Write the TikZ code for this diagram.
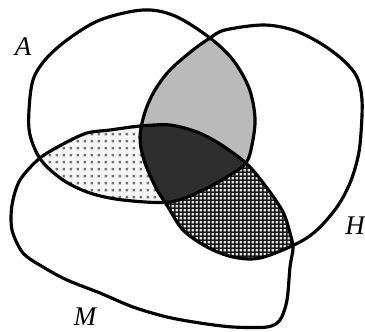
\documentclass[tikz,border=0pt]{standalone}
\usepackage{fontspec}
\setmainfont{Liberation Serif}
\usetikzlibrary{patterns.meta}
\tikzdeclarepattern{
  name=sqdots,
  type=colored,
  bottom left={(0pt,0pt)},
  top right={(5.6pt,5.6pt)},
  tile size={(5.6pt,5.6pt)},
  code={\fill[black!55] (1.4pt,1.4pt) rectangle (3.8pt,3.8pt);}
}
\tikzdeclarepattern{
  name=hatchgrid,
  type=colored,
  bottom left={(0pt,0pt)},
  top right={(3.8pt,3.8pt)},
  tile size={(3.8pt,3.8pt)},
  code={\fill[black!90] (0pt,0pt) rectangle (3.8pt,1.6pt); \fill[black!90] (0pt,0pt) rectangle (1.6pt,3.8pt);}
}
\def\pathA{plot[smooth cycle,tension=0.55] coordinates {(29,110) (33,80) (45,60) (67,40) (100,20) (143,10) (175,16) (210,38) (233,60) (249,88) (255,118) (252,145) (246,163) (230,175) (203,190) (170,202) (123,200) (90,193) (63,180) (41,160) (30,135)}}
\def\pathH{plot[smooth cycle,tension=0.55] coordinates {(210,38) (225,30) (263,25) (293,30) (320,43) (343,60) (357,77) (362,100) (361,133) (358,157) (350,183) (337,207) (317,230) (296,244) (260,258) (233,257) (207,247) (183,230) (168,207) (155,186) (144,160) (140,137) (145,112) (155,90) (170,70) (193,50)}}
\def\pathM{plot[smooth cycle,tension=0.5] coordinates {(40,158) (20,180) (12,205) (12,230) (23,253) (43,267) (67,280) (100,293) (133,307) (167,317) (200,323) (233,327) (267,327) (280,320) (287,300) (290,267) (293,248) (290,233) (283,212) (267,188) (247,164) (220,144) (197,132) (170,125) (140,126) (110,130) (87,133) (65,143)}}
\tikzset{
  outline/.style={line width=2.7pt, line join=round},
  setlabel/.style={font=\fontsize{23}{26}\selectfont\itshape, inner sep=0pt}
}
\begin{document}
\begin{tikzpicture}[x=0.03cm,y=-0.03cm]
\useasboundingbox (0,0) rectangle (365,331);
\fill[white] (0,0) rectangle (365,331);
% A and M
\begin{scope}
  \clip \pathA; \clip \pathM;
  \fill[black!4] (0,0) rectangle (365,331);
  \fill[pattern=sqdots] (0,0) rectangle (365,331);
\end{scope}
% H and M
\begin{scope}
  \clip \pathH; \clip \pathM;
  \fill[black!10] (0,0) rectangle (365,331);
  \fill[pattern=hatchgrid] (0,0) rectangle (365,331);
\end{scope}
% A and H
\begin{scope}
  \clip \pathA; \clip \pathH;
  \fill[black!27] (0,0) rectangle (365,331);
\end{scope}
% A, H and M
\begin{scope}
  \clip \pathA; \clip \pathH; \clip \pathM;
  \fill[black!82] (0,0) rectangle (365,331);
\end{scope}
\draw[outline] \pathA;
\draw[outline] \pathH;
\draw[outline] \pathM;
\node[setlabel] (labA) at (23,47) {A};
\node[setlabel] (labH) at (355,226) {H};
\node[setlabel] (labM) at (85,317) {M};
\end{tikzpicture}
\end{document}
